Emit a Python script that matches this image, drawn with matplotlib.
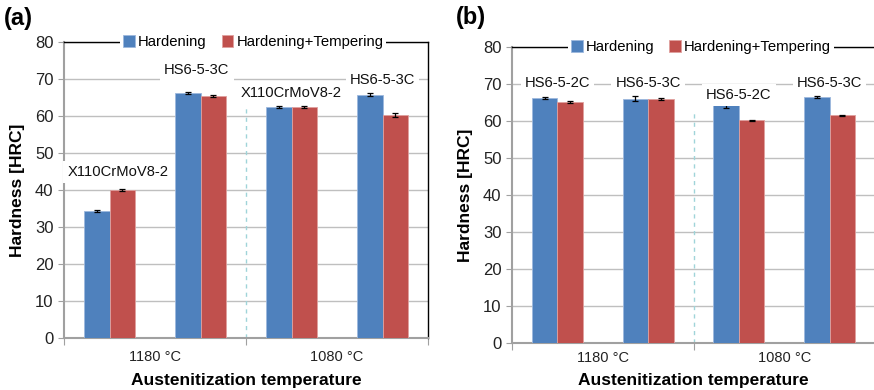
import numpy as np
import matplotlib
matplotlib.use("Agg")
import matplotlib.pyplot as plt

plt.rcParams['font.family'] = ['Liberation Sans', 'DejaVu Sans']

# panel (a)
steels_a = ["X110CrMoV8-2", "HS6-5-3C", "X110CrMoV8-2", "HS6-5-3C"]
hard_a = [34.3, 66.2, 62.4, 65.8]
hard_a_err = [0.3, 0.3, 0.3, 0.3]
temp_a = [40.1, 65.4, 62.4, 60.3]
temp_a_err = [0.3, 0.3, 0.3, 0.5]

# panel (b)
steels_b = ["HS6-5-2C", "HS6-5-3C", "HS6-5-2C", "HS6-5-3C"]
hard_b = [66.3, 66.0, 64.2, 66.4]
hard_b_err = [0.3, 0.7, 0.7, 0.3]
temp_b = [65.1, 65.9, 60.2, 61.5]
temp_b_err = [0.3, 0.2, 0.2, 0.2]

temps = ["1180 °C", "1080 °C"]

# where the steel names sit (x offset from group, y in HRC)
label_pos_a = [(0.09, 44.9), (-0.04, 72.4), (0.0, 66.2), (0.0, 69.6)]
label_pos_b = [(0.0, 70.4), (0.0, 70.4), (0.0, 67.0), (0.0, 70.4)]

blue = "#4f81bd"
red = "#c0504d"
grid_c = "#bfbfbf"
spine_c = "#a0a0a0"
W, H = 874, 390


def panel(ax, hard, herr, temp, terr, steels, lpos, tag, tagpos, bottom_px, tickpad):
    x = np.arange(len(hard))
    w = 0.28
    ax.bar(x - w / 2, hard, w, color=blue, edgecolor="#9db8dd", linewidth=0.6,
           yerr=herr, error_kw=dict(ecolor="black", capsize=2, elinewidth=0.9, capthick=0.9),
           label="Hardening", zorder=3)
    ax.bar(x + w / 2, temp, w, color=red, edgecolor="#e0a09e", linewidth=0.6,
           yerr=terr, error_kw=dict(ecolor="black", capsize=2, elinewidth=0.9, capthick=0.9),
           label="Hardening+Tempering", zorder=3)
    for xi, s, (dx, yy) in zip(x, steels, lpos):
        ax.text(xi + dx, yy, s, ha="center", va="center", fontsize=10.6, color="#111111",
                bbox=dict(facecolor="white", edgecolor="none", pad=3), zorder=4)
    ax.set_xlim(-0.5, 3.5)
    ax.set_ylim(0, 80)
    ax.set_yticks(np.arange(0, 81, 10))
    ax.yaxis.grid(True, color=grid_c, linewidth=1)
    ax.set_axisbelow(True)
    ax.set_xticks([-0.5, 1.5, 3.5])
    ax.set_xticklabels([])
    ax.set_xticks([0.5, 2.5], minor=True)
    ax.set_xticklabels(temps, minor=True, fontsize=10.5, color="#222222")
    ax.tick_params(axis="x", which="minor", length=0, pad=tickpad)
    ax.tick_params(axis="x", which="major", length=5, color=spine_c, direction="out")
    ax.tick_params(axis="y", length=4, color=spine_c, labelsize=12, labelcolor="#222222")
    ax.axvline(1.5, ymin=0, ymax=63 / 80, color="#9fd4d9", linestyle=(0, (3, 3)), linewidth=1.0, zorder=1)
    for s in ("left", "bottom"):
        ax.spines[s].set_color(spine_c)
        ax.spines[s].set_linewidth(1.5)
    for s in ("top", "right"):
        ax.spines[s].set_color("black")
        ax.spines[s].set_linewidth(1.0)
    ax.set_ylabel("Hardness [HRC]", fontsize=12.5, fontweight="bold", labelpad=7)
    ax.set_xlabel("Austenitization temperature", fontsize=12.5, fontweight="bold")
    ax.xaxis.label.set_va("center")
    ax.xaxis.set_label_coords(0.5, (bottom_px - 380) / 296)
    leg = ax.legend(loc="center", bbox_to_anchor=(0.52, 1.0), ncol=2, fontsize=10.7,
                    frameon=True, facecolor="white", edgecolor="none", framealpha=1,
                    handlelength=0.8, handleheight=0.8, handletextpad=0.2,
                    columnspacing=1.0, borderpad=0.2, fancybox=False)
    leg.set_zorder(10)
    ax.text(tagpos[0], tagpos[1], tag, transform=ax.transAxes, fontsize=17, fontweight="bold",
            ha="left", va="center")


fig = plt.figure(figsize=(8.74, 3.9), dpi=100)
ax1 = fig.add_axes([64 / W, 1 - 338 / H, 364 / W, 296 / H])
ax2 = fig.add_axes([512 / W, 1 - 343 / H, 363 / W, 296 / H])
panel(ax1, hard_a, hard_a_err, temp_a, temp_a_err, steels_a, label_pos_a, "(a)", (-0.165, 1.08), 338, 8.5)
panel(ax2, hard_b, hard_b_err, temp_b, temp_b_err, steels_b, label_pos_b, "(b)", (-0.155, 1.1), 343, 5.8)

fig.savefig("out.png", dpi=100)
